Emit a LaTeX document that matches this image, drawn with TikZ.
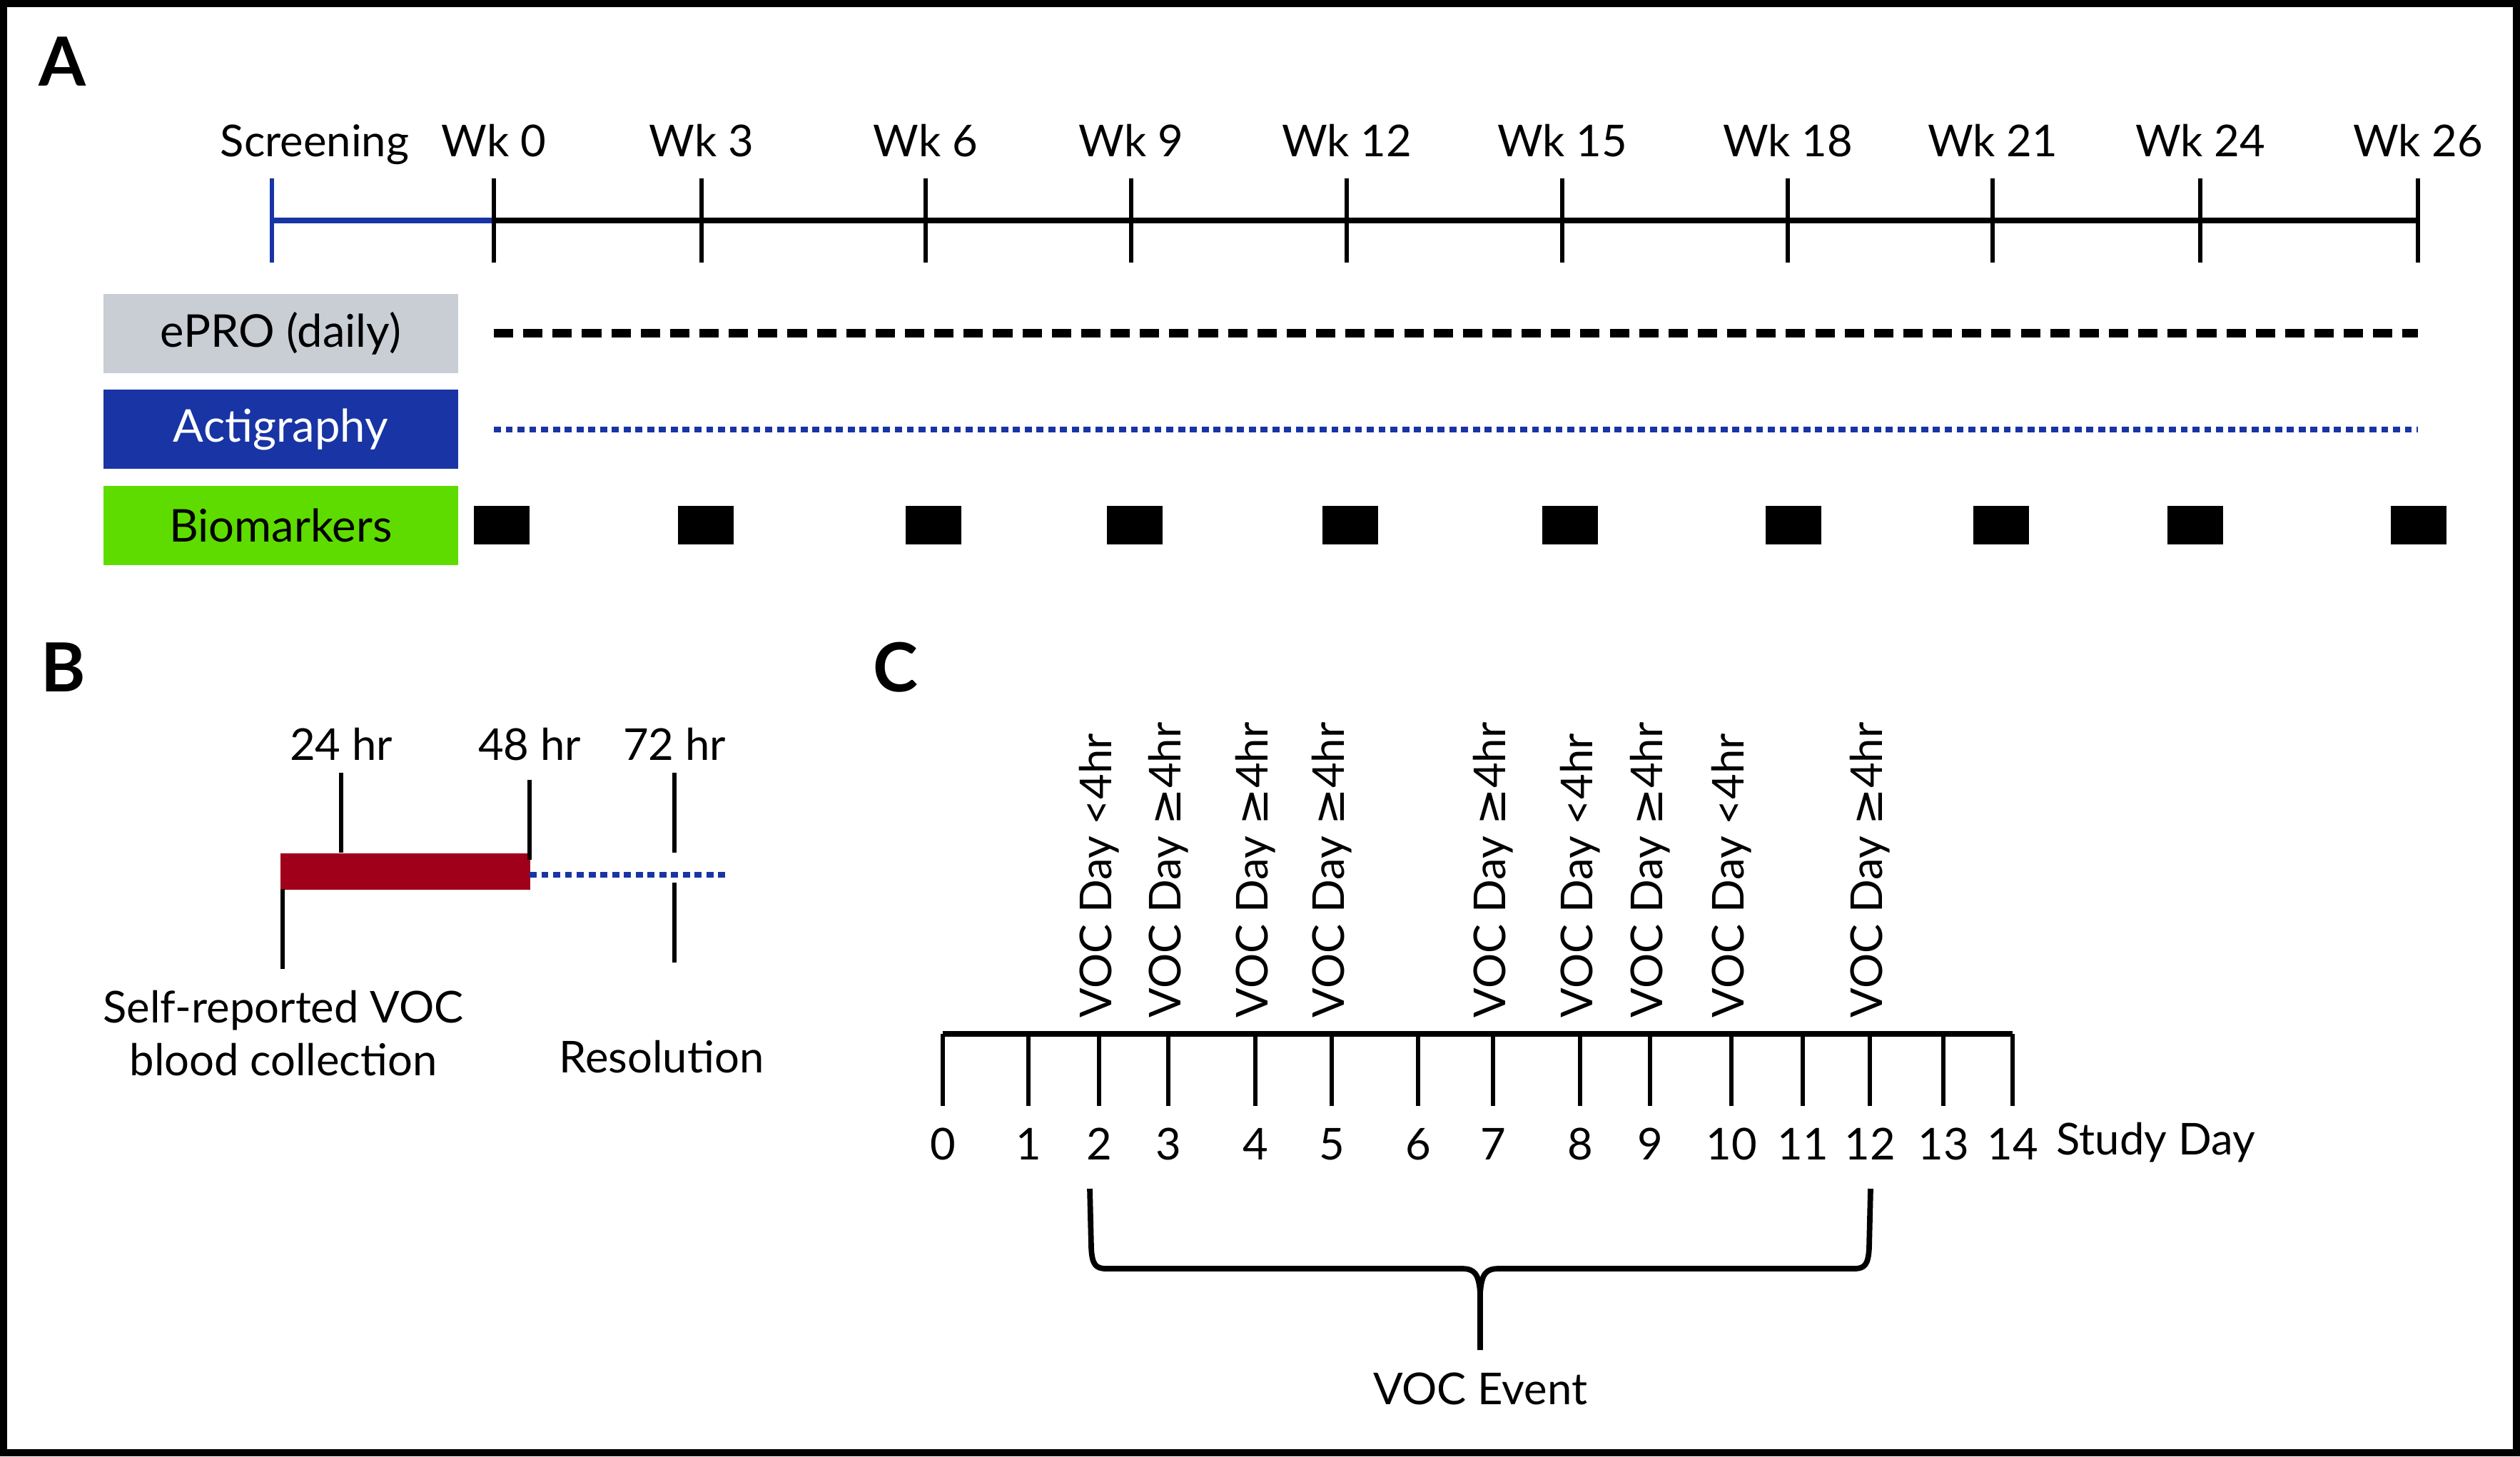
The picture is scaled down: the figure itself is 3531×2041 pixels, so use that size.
\documentclass[tikz,border=0pt]{standalone}
\usepackage{fontspec}
\setmainfont{Lato}
\newfontfamily\symbolfont{DejaVu Sans}
\usetikzlibrary{positioning}

\definecolor{eprogray}{HTML}{C9CED5}
\definecolor{actiblue}{HTML}{1834A5}
\definecolor{biogreen}{HTML}{5EDC00}
\definecolor{vocred}{HTML}{A1001B}

\newcommand{\gte}{{\symbolfont ≥}}

\begin{document}
\begin{tikzpicture}[
    x=0.01cm, y=-0.01cm,
    text label/.style={
        font=\fontsize{17.5}{20}\selectfont,
        inner sep=0pt
    },
    panel letter/.style={
        font=\fontsize{27}{30}\selectfont\bfseries,
        inner sep=0pt,
        anchor=base west
    },
    track box/.style={
        minimum width=4.97cm,
        minimum height=1.11cm,
        inner sep=0pt,
        font=\fontsize{18}{20}\selectfont
    },
    bio mark/.style={
        fill=black,
        minimum width=0.78cm,
        minimum height=0.54cm,
        inner sep=0pt
    },
    axis line/.style={line width=2.3pt},
    tick line/.style={line width=1.7pt},
    dot line/.style={actiblue, line width=2.3pt, dash pattern=on 2.8pt off 1.9pt},
    voc label/.style={
        rotate=90,
        anchor=west,
        inner sep=0pt,
        font=\fontsize{17.5}{20}\selectfont
    }
]

% Frame
\useasboundingbox (0,0) rectangle (3531,2041);
\draw[line width=2.85pt] (5,5) rectangle (3526,2036);

% Panel letters
\node[panel letter] (A) at (54,120) {A};
\node[panel letter] (B) at (57,969) {B};
\node[panel letter] (C) at (1223,969) {C};

% Panel A: week timeline
\coordinate (scr) at (381,309);
\node[text label, anchor=base] (screening) at (441,219) {Screening};
\foreach \x/\wk in {692/0, 983/3, 1297/6, 1585/9, 1887/12, 2189/15, 2505/18, 2792/21, 3083/24, 3388/26} {
    \coordinate (w\wk) at (\x,309);
    \node[text label, anchor=base] (wk\wk) at (\x,219) {Wk \wk};
}
\draw[axis line, actiblue] (scr) -- (w0);
\draw[axis line] (w0) -- (w26);
\draw[tick line, actiblue] (381,250) -- (381,368);
\foreach \x in {692, 983, 1297, 1585, 1887, 2189, 2505, 2792, 3083, 3388}
    \draw[tick line] (\x,250) -- (\x,368);

% Tracks
\node[track box, fill=eprogray, anchor=north west] (epro) at (144,411) {ePRO (daily)};
\node[track box, fill=actiblue, text=white, below=0.22cm of epro] (acti) {Actigraphy};
\node[track box, fill=biogreen, below=0.22cm of acti] (bio) {Biomarkers};

\draw[line width=3.4pt, dash pattern=on 7.7pt off 4pt] (w0 |- epro.east) -- (w26 |- epro.east);
\draw[dot line] (w0 |- acti.east) -- (w26 |- acti.east);
\foreach \x [count=\i] in {703, 989, 1308, 1590, 1892, 2200, 2513, 2804, 3076, 3389}
    \node[bio mark] (mark\i) at (\x,736) {};

% Panel B: single VOC
\node[fill=vocred, minimum width=3.5cm, minimum height=0.51cm, inner sep=0pt, anchor=north west] (bar) at (392,1195) {};
\draw[tick line] (396,1246) -- (396,1358);
\draw[tick line] (478,1083) -- (478,1195);
\draw[tick line] (742,1093) -- (742,1205);
\draw[tick line] (945,1083) -- (945,1195);
\draw[tick line] (945,1237) -- (945,1349);
\coordinate (dotend) at (1018,1226);
\draw[dot line] (742,1226) -- (dotend);

\node[text label, anchor=base] (h24) at (478,1065) {24 hr};
\node[text label, anchor=base] (h48) at (742,1065) {48 hr};
\node[text label, anchor=base] (h72) at (945,1065) {72 hr};
\node[text label, anchor=base] (selfrep) at (397,1433) {Self-reported VOC};
\node[text label, anchor=base] (bloodcol) at (397,1507) {blood collection};
\node[text label, anchor=base] (resol) at (927,1503) {Resolution};

% Panel C: study days
\foreach \x [count=\d from 0] in {1321, 1441, 1540, 1637, 1759, 1866, 1987, 2092, 2214, 2312, 2426, 2526, 2620, 2723, 2820} {
    \coordinate (d\d) at (\x,1449);
    \draw[tick line] (\x,1449) -- (\x,1550);
    \node[text label, anchor=base] (n\d) at (\x,1625) {\d};
}
\draw[axis line] (d0) -- (d14);
\node[text label, anchor=base west] (studyday) at (2881,1618) {Study Day};

\foreach \d/\s in {2/<, 3/\gte, 4/\gte, 5/\gte, 7/\gte, 8/<, 9/\gte, 10/<, 12/\gte}
    \node[voc label] (voc\d) at ([yshift=0.22cm]d\d) {VOC Day \s4hr};

% Brace
\draw[line width=2.2pt, line join=round]
    (1527,1666) -- (1529,1748) .. controls (1530,1772) and (1535,1778) .. (1550,1778)
    -- (2048,1778) .. controls (2066,1778) and (2072,1785) .. (2074,1812) -- (2074,1892);
\draw[line width=2.2pt, line join=round]
    (2621,1666) -- (2619,1748) .. controls (2618,1772) and (2613,1778) .. (2598,1778)
    -- (2100,1778) .. controls (2082,1778) and (2076,1785) .. (2074,1812);
\node[text label, anchor=base] (vocevent) at (2074,1968) {VOC Event};

\end{tikzpicture}
\end{document}
